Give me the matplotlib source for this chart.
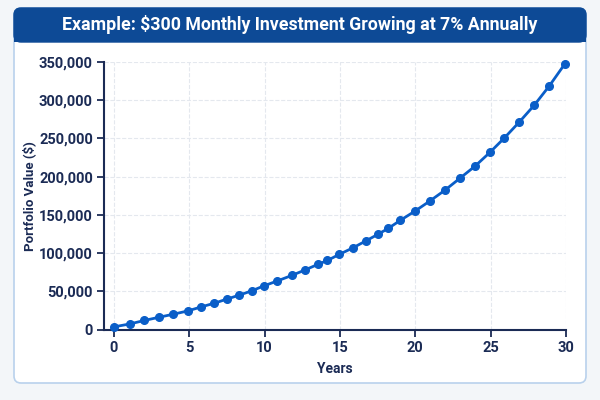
import matplotlib.pyplot as plt
from matplotlib.patches import FancyBboxPatch, Rectangle
from matplotlib.transforms import IdentityTransform
from matplotlib.ticker import FuncFormatter

# values
years = [0, 1.07, 2.02, 3.02, 3.95, 4.93, 5.8, 6.67, 7.49, 8.31, 9.14, 9.96,
         10.86, 11.8, 12.7, 13.57, 14.17, 14.95, 15.86, 16.73, 17.5, 18.2,
         19.0, 19.98, 20.96, 21.97, 22.95, 23.97, 24.95, 25.9, 26.9, 27.9,
         28.9, 29.93]
values = [3400, 7300, 11800, 16100, 20000, 24400, 29600, 34400, 39700, 44900,
          50500, 57100, 63600, 70700, 78000, 85500, 90300, 98200, 106800,
          116000, 124300, 132200, 142700, 154900, 168000, 182300, 197700,
          213800, 231700, 250400, 271400, 293600, 318900, 347700]
x_ticks = [0, 5, 10, 15, 20, 25, 30]
y_ticks = [0, 50000, 100000, 150000, 200000, 250000, 300000, 350000]

title = "Example: $300 Monthly Investment Growing at 7% Annually"

navy = "#1b2b55"
blue = "#0a5ec8"

plt.rcParams['font.family'] = ['Roboto', 'DejaVu Sans']

fig = plt.figure(figsize=(6, 4), dpi=100)
fig.patch.set_facecolor("#f3f6f9")

H = 400
def px(x, y):
    # pixel coords from top-left
    return x, H - y

# card
x0, y0, x1, y1 = 14, 8, 586, 383
card = FancyBboxPatch(px(x0, y1), x1 - x0, y1 - y0,
                      boxstyle="round,pad=0,rounding_size=7",
                      transform=IdentityTransform(), facecolor="white",
                      edgecolor="#b9d1ec", linewidth=1.2, zorder=0)
fig.patches.append(card)

# title banner
banner = FancyBboxPatch(px(x0, 42), x1 - x0, 42 - y0,
                        boxstyle="round,pad=0,rounding_size=7",
                        transform=IdentityTransform(), facecolor="#0d4a96",
                        edgecolor="#0d4a96", linewidth=1, zorder=1)
fig.patches.append(banner)
fig.patches.append(Rectangle(px(x0, 42), x1 - x0, 12,
                             transform=IdentityTransform(),
                             facecolor="#0d4a96", edgecolor="none", zorder=1))
fig.text(0.5, 1 - 25 / H, title, color="white", fontsize=12.8,
         fontweight="bold", ha="center", va="center", zorder=3)

ax = fig.add_axes([104 / 600, 1 - 329.5 / H, (566 - 104) / 600, (329.5 - 62) / H])
ax.set_facecolor("none")
ax.set_zorder(2)

ax.plot(years, values, color=blue, linewidth=2, marker="o", markersize=5.5,
        zorder=3, clip_on=False)

ax.set_xlim(-0.65, 30)
ax.set_ylim(0, 350000)
ax.set_xticks(x_ticks)
ax.set_yticks(y_ticks)
ax.yaxis.set_major_formatter(FuncFormatter(lambda v, p: f"{int(v):,}"))

ax.grid(True, linestyle="--", color="#e4e8ee", linewidth=0.8)
ax.set_axisbelow(True)

ax.spines['right'].set_color('none')
ax.spines['top'].set_color('none')
for s in ['left', 'bottom']:
    ax.spines[s].set_color(navy)
    ax.spines[s].set_linewidth(1.5)

ax.tick_params(colors=navy, length=5, width=1.3, labelsize=10.5, pad=3)
for lab in ax.get_xticklabels() + ax.get_yticklabels():
    lab.set_fontweight("bold")

ax.set_xlabel("Years", fontsize=10, fontweight="bold", color=navy, labelpad=5)
ax.set_ylabel("Portfolio Value ($)", fontsize=9.5, fontweight="bold",
              color=navy, labelpad=2)

fig.savefig("out.png", dpi=100, facecolor=fig.get_facecolor())
